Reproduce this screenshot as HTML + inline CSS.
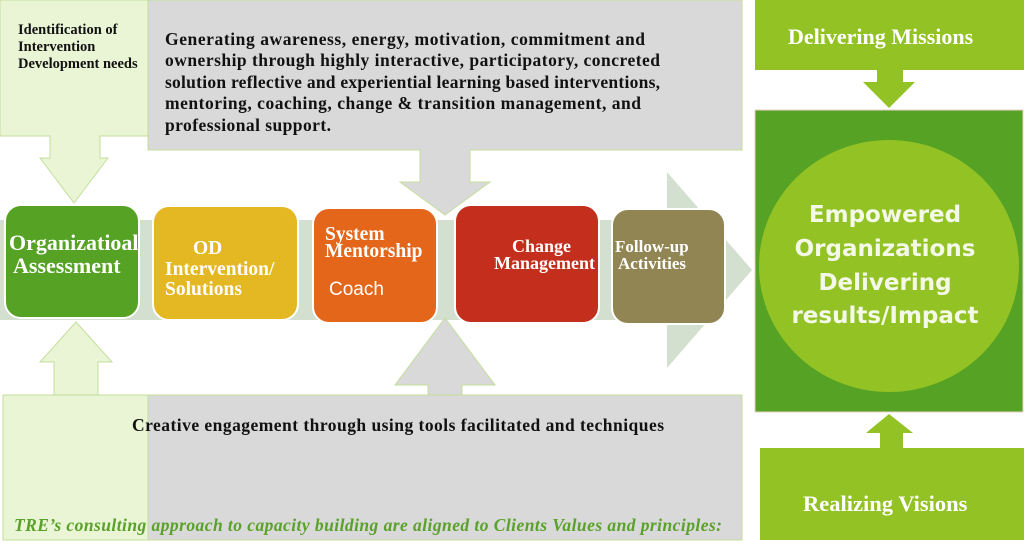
<!DOCTYPE html>
<html><head><style>body{margin:0;background:#fff}svg{display:block}</style></head><body>
<svg width="1024" height="547" viewBox="0 0 1024 547" xmlns="http://www.w3.org/2000/svg" font-family="Liberation Serif, serif">
<path d="M0,0H148V136H100V158H108L74,203L40,158H50V136H0Z" fill="#e9f5d4" stroke="#c4de9c" stroke-width="1"/>
<path d="M148,0H742V150H470V182H490L445,215L400,182H420V150H148Z" fill="#d9d9d9" stroke="#c4de9c" stroke-width="1"/>
<rect x="0" y="220" width="680" height="100" fill="#d3dfcf"/>
<path d="M667,172L752,270L667,368Z" fill="#d3dfcf"/>
<path d="M3,395H148V540H3Z" fill="#e9f5d4" stroke="#c4de9c"/>
<path d="M54,395V362H40L76,322L112,362H98V395Z" fill="#e9f5d4" stroke="#c4de9c"/>
<path d="M148,395H742V540H148Z" fill="#d9d9d9" stroke="#c4de9c"/>
<path d="M428,395V385H395L445,318L495,385H462V395Z" fill="#d9d9d9" stroke="#c4de9c"/>
<g stroke="#fff" stroke-width="2">
<rect x="5" y="205" width="134" height="113" rx="16" fill="#55a225"/>
<rect x="153" y="206" width="145" height="114" rx="16" fill="#e4b822"/>
<rect x="313" y="208" width="124" height="115" rx="16" fill="#e4661a"/>
<rect x="455" y="205" width="144" height="118" rx="16" fill="#c42e1c"/>
<rect x="612" y="209" width="113" height="115" rx="16" fill="#918653"/>
</g>
<rect x="755" y="0" width="269" height="70" fill="#93c225"/>
<path d="M877,70H903V82H915L889,108L863,82H877Z" fill="#93c225"/>
<rect x="755" y="110" width="268" height="302" fill="#55a225" stroke="#e9d0c8"/>
<ellipse cx="889" cy="266" rx="130" ry="126" fill="#93c225"/>
<rect x="760" y="448" width="264" height="92" fill="#93c225"/>
<path d="M880,448V433H866L889,414L913,433H903V448Z" fill="#93c225"/>
<g font-weight="bold" font-size="14.5" fill="#111">
<text x="18" y="34">Identification of</text>
<text x="18" y="51">Intervention</text>
<text x="18" y="68">Development needs</text>
</g>
<g font-weight="bold" font-size="17.5" fill="#111">
<text x="165" y="45" textLength="480" lengthAdjust="spacing">Generating awareness, energy, motivation, commitment and</text>
<text x="165" y="66" textLength="495" lengthAdjust="spacing">ownership through highly interactive, participatory, concreted</text>
<text x="165" y="88" textLength="495" lengthAdjust="spacing">solution reflective and experiential learning based interventions,</text>
<text x="165" y="109" textLength="476" lengthAdjust="spacing">mentoring, coaching, change &amp; transition management, and</text>
<text x="165" y="131" textLength="166" lengthAdjust="spacing">professional support.</text>
<text x="132" y="431" textLength="532" lengthAdjust="spacing">Creative engagement through using tools facilitated and techniques</text>
</g>
<text x="14" y="531" font-weight="bold" font-style="italic" font-size="17.5" fill="#5aa12a" textLength="708" lengthAdjust="spacing">TRE’s consulting approach to capacity building are aligned to Clients Values and principles:</text>
<g font-weight="bold" fill="#fff">
<text x="9" y="250" font-size="22">Organizatioal</text>
<text x="13" y="273" font-size="22">Assessment</text>
<text x="193" y="254" font-size="19.5">OD</text>
<text x="165" y="275" font-size="19.5">Intervention/</text>
<text x="165" y="295" font-size="19.5">Solutions</text>
<text x="325" y="240" font-size="19.5">System</text>
<text x="325" y="257" font-size="19.5">Mentorship</text>
<text x="512" y="252" font-size="18">Change</text>
<text x="494" y="269" font-size="18">Management</text>
<text x="615" y="252" font-size="17">Follow-up</text>
<text x="618" y="269" font-size="17">Activities</text>
<text x="788" y="44" font-size="22">Delivering Missions</text>
<text x="803" y="511" font-size="22.5">Realizing Visions</text>
</g>
<text x="329" y="295" font-size="19" fill="#fff" font-family="Liberation Sans, sans-serif">Coach</text>
<g font-family="DejaVu Sans, sans-serif" font-size="23" font-weight="bold" fill="#f4f8e6" text-anchor="middle">
<text x="885" y="222">Empowered</text>
<text x="885" y="256">Organizations</text>
<text x="885" y="290">Delivering</text>
<text x="885" y="323">results/Impact</text>
</g>
</svg>
</body></html>
